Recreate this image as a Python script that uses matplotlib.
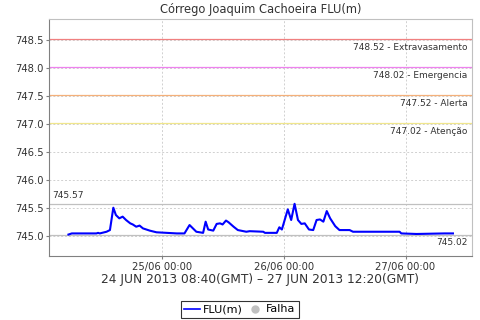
import pandas as pd
import matplotlib
matplotlib.use('Agg')
import matplotlib.pyplot as plt
import matplotlib.dates as mdates
from matplotlib.lines import Line2D

# dados (hora local, GMT-3)
tempos = ['2013-06-24 05:40', '2013-06-24 06:20', '2013-06-24 11:10', '2013-06-24 11:30',
          '2013-06-24 11:50', '2013-06-24 13:10', '2013-06-24 13:50', '2013-06-24 14:30',
          '2013-06-24 15:00', '2013-06-24 15:40', '2013-06-24 16:20', '2013-06-24 17:00',
          '2013-06-24 17:50', '2013-06-24 18:20', '2013-06-24 19:00', '2013-06-24 19:40',
          '2013-06-24 20:20', '2013-06-24 21:40', '2013-06-24 23:00', '2013-06-25 01:00',
          '2013-06-25 03:00', '2013-06-25 04:30', '2013-06-25 05:30', '2013-06-25 06:10',
          '2013-06-25 06:50', '2013-06-25 08:10', '2013-06-25 08:40', '2013-06-25 09:10',
          '2013-06-25 10:10', '2013-06-25 10:50', '2013-06-25 11:30', '2013-06-25 12:00',
          '2013-06-25 12:40', '2013-06-25 13:10', '2013-06-25 14:10', '2013-06-25 15:00',
          '2013-06-25 16:40', '2013-06-25 17:20', '2013-06-25 20:00', '2013-06-25 20:20',
          '2013-06-25 22:40', '2013-06-25 23:10', '2013-06-25 23:40', '2013-06-26 00:50',
          '2013-06-26 01:30', '2013-06-26 02:10', '2013-06-26 02:50', '2013-06-26 03:30',
          '2013-06-26 04:10', '2013-06-26 05:00', '2013-06-26 05:50', '2013-06-26 06:30',
          '2013-06-26 07:10', '2013-06-26 07:50', '2013-06-26 08:30', '2013-06-26 09:10',
          '2013-06-26 10:10', '2013-06-26 11:00', '2013-06-26 13:00', '2013-06-26 13:40',
          '2013-06-26 15:00', '2013-06-26 22:50', '2013-06-26 23:10', '2013-06-27 02:10',
          '2013-06-27 07:40', '2013-06-27 09:20']
nivel = [745.02, 745.04, 745.04, 745.05,
         745.04, 745.07, 745.10, 745.50,
         745.37, 745.31, 745.34, 745.28,
         745.22, 745.20, 745.16, 745.18,
         745.13, 745.09, 745.06, 745.05,
         745.04, 745.04, 745.19, 745.13,
         745.07, 745.05, 745.25, 745.11,
         745.09, 745.21, 745.22, 745.20,
         745.27, 745.24, 745.16, 745.10,
         745.07, 745.08, 745.07, 745.05,
         745.05, 745.15, 745.11, 745.47,
         745.28, 745.57, 745.28, 745.21,
         745.22, 745.11, 745.10, 745.28,
         745.29, 745.25, 745.44, 745.31,
         745.17, 745.10, 745.10, 745.07,
         745.07, 745.07, 745.04, 745.03,
         745.04, 745.04]

cotas = [748.52, 748.02, 747.52, 747.02]
nomes_cotas = ['Extravasamento', 'Emergencia', 'Alerta', 'Atenção']
cores_cotas = ['#f08080', '#ee82ee', '#f4b07a', '#f0e68c']

y_ticks = [745.0, 745.5, 746.0, 746.5, 747.0, 747.5, 748.0, 748.5]
x_ticks = ['2013-06-25 00:00', '2013-06-26 00:00', '2013-06-27 00:00']

titulo = 'Córrego Joaquim Cachoeira FLU(m)'
periodo = '24 JUN 2013 08:40(GMT) – 27 JUN 2013 12:20(GMT)'

t = pd.to_datetime(tempos)
fig = plt.figure(figsize=(4.8, 3.2), dpi=100)
ax = fig.add_axes([0.102, 0.2, 0.881, 0.7406])

# linhas de cota
for c, n, cor in zip(cotas, nomes_cotas, cores_cotas):
    ax.axhline(c, color=cor, lw=0.9, zorder=2)
    ax.text(0.99, c - 0.07, '%.2f - %s' % (c, n), transform=ax.get_yaxis_transform(),
            ha='right', va='top', fontsize=6.5, color='#333333')

# maximo e minimo
vmax, vmin = max(nivel), min(nivel)
ax.axhline(vmax, color='#c0c0c0', lw=0.9, zorder=2)
ax.axhline(vmin, color='#c0c0c0', lw=0.9, zorder=2)
ax.text(0.007, vmax + 0.06, '%.2f' % vmax, transform=ax.get_yaxis_transform(),
        ha='left', va='bottom', fontsize=6.5, color='#333333')
ax.text(0.99, vmin - 0.07, '%.2f' % vmin, transform=ax.get_yaxis_transform(),
        ha='right', va='top', fontsize=6.5, color='#333333')

ax.plot(t, nivel, color='#0000ff', lw=1.5, zorder=3)

ax.set_ylim(744.636, 748.876)
ax.set_xlim(pd.Timestamp('2013-06-24 01:50'), pd.Timestamp('2013-06-27 13:03'))
ax.set_yticks(y_ticks)
ax.set_yticklabels(['%.1f' % v for v in y_ticks])
ax.set_xticks(pd.to_datetime(x_ticks))
ax.xaxis.set_major_formatter(mdates.DateFormatter('%d/%m %H:%M'))
ax.grid(True, color='#d0d0d0', ls=(0, (2, 2)), lw=0.7, zorder=0)
ax.tick_params(labelsize=7.2, colors='#333333', length=2, width=0.8, pad=2)
ax.tick_params(axis='both', color='#808080')

for s in ['left', 'bottom']:
    ax.spines[s].set_color('#808080')
for s in ['top', 'right']:
    ax.spines[s].set_color('#c0c0c0')

ax.set_title(titulo, fontsize=8.3, color='#333333', pad=4)
ax.set_xlabel(periodo, fontsize=8.8, color='#333333', labelpad=1)

handles = [Line2D([], [], color='#0000ff', lw=1.2),
           Line2D([], [], ls='', marker='o', color='#c0c0c0', markersize=5)]
leg = fig.legend(handles, ['FLU(m)', 'Falha'], loc='lower center', bbox_to_anchor=(0.5, 0.0),
                 ncol=2, fontsize=8, frameon=True, fancybox=False, handlelength=1.4,
                 handletextpad=0.3, columnspacing=0.4, borderpad=0.3, borderaxespad=0.2)
leg.get_frame().set_edgecolor('black')
leg.get_frame().set_linewidth(0.8)

plt.savefig('out.png', dpi=100)
